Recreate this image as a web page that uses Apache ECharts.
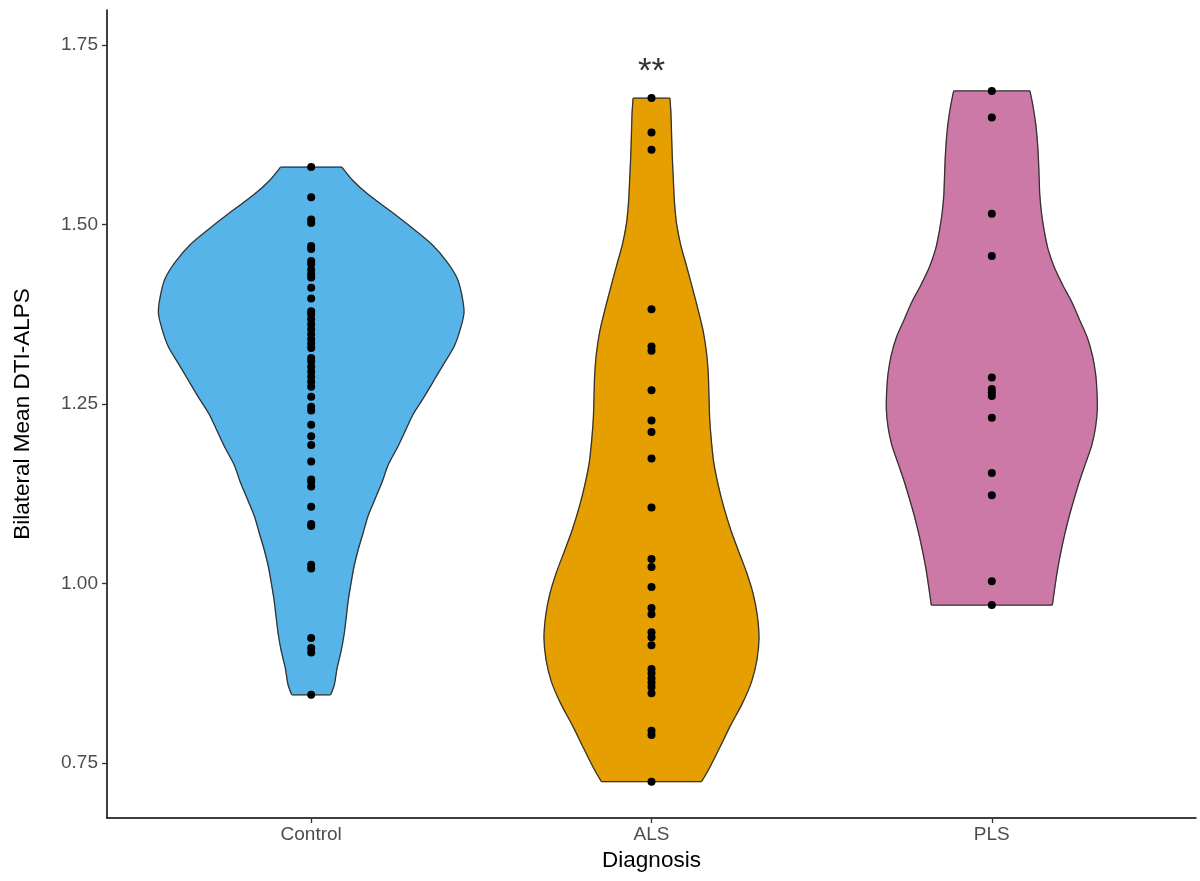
<!DOCTYPE html>
<html>
<head>
<meta charset="utf-8">
<script src="https://cdn.jsdelivr.net/npm/echarts@6/dist/echarts.min.js"></script>
<style>
  html, body { margin: 0; padding: 0; background: #fff; }
  #chart { width: 1200px; height: 881px; }
</style>
</head>
<body>
<div id="chart"></div>
<script>
  const groups = ['Control', 'ALS', 'PLS'];
  const colors = ['#56B4E9', '#E69F00', '#CC79A7'];
  const yTicks = [0.75, 1.00, 1.25, 1.50, 1.75];

  const controlValues = [1.580, 1.538, 1.507, 1.502, 1.470, 1.466, 1.449, 1.445, 1.437, 1.431, 1.426, 1.412,
    1.397, 1.379, 1.375, 1.368, 1.361, 1.354, 1.347, 1.340, 1.334, 1.328, 1.314, 1.309, 1.302, 1.295, 1.288,
    1.281, 1.274, 1.260, 1.246, 1.241, 1.221, 1.205, 1.193, 1.170, 1.145, 1.142, 1.135, 1.107, 1.083, 1.080,
    1.026, 1.021, 0.924, 0.910, 0.904, 0.845];
  const alsValues = [1.676, 1.628, 1.604, 1.382, 1.330, 1.324, 1.269, 1.227, 1.211, 1.174, 1.106, 1.034,
    1.023, 0.995, 0.966, 0.957, 0.932, 0.925, 0.914, 0.881, 0.875, 0.868, 0.862, 0.856, 0.847, 0.795, 0.789, 0.724];
  const plsValues = [1.686, 1.649, 1.515, 1.456, 1.287, 1.271, 1.266, 1.261, 1.231, 1.154, 1.123, 1.003, 0.970];

  // violin outlines: [value, half width in category units], top to bottom
  const controlOutline = [
    [1.580, 0.090], [1.561, 0.123], [1.542, 0.167], [1.519, 0.232], [1.495, 0.297], [1.472, 0.355],
    [1.448, 0.399], [1.425, 0.429], [1.401, 0.443], [1.377, 0.449], [1.354, 0.438], [1.330, 0.420],
    [1.307, 0.391], [1.283, 0.361], [1.260, 0.332], [1.236, 0.300], [1.212, 0.276], [1.189, 0.253],
    [1.165, 0.226], [1.142, 0.209], [1.118, 0.188], [1.094, 0.167], [1.071, 0.153], [1.047, 0.138],
    [1.024, 0.126], [1.000, 0.117], [0.977, 0.109], [0.953, 0.103], [0.930, 0.097], [0.906, 0.088],
    [0.882, 0.076], [0.859, 0.068], [0.845, 0.057]
  ];
  const alsOutline = [
    [1.676, 0.054], [1.656, 0.057], [1.625, 0.059], [1.595, 0.061], [1.564, 0.064], [1.534, 0.067],
    [1.503, 0.073], [1.473, 0.085], [1.442, 0.103], [1.412, 0.120], [1.381, 0.137], [1.351, 0.152],
    [1.320, 0.162], [1.290, 0.167], [1.259, 0.169], [1.229, 0.171], [1.198, 0.176], [1.168, 0.183],
    [1.137, 0.196], [1.107, 0.212], [1.076, 0.232], [1.046, 0.255], [1.016, 0.279], [0.985, 0.299],
    [0.955, 0.311], [0.924, 0.316], [0.894, 0.310], [0.863, 0.294], [0.833, 0.267], [0.802, 0.232],
    [0.772, 0.201], [0.741, 0.168], [0.724, 0.147]
  ];
  const plsOutline = [
    [1.686, 0.112], [1.665, 0.121], [1.640, 0.129], [1.615, 0.134], [1.591, 0.137], [1.566, 0.139],
    [1.541, 0.141], [1.516, 0.146], [1.491, 0.154], [1.466, 0.165], [1.441, 0.183], [1.416, 0.208],
    [1.392, 0.235], [1.367, 0.258], [1.342, 0.281], [1.317, 0.296], [1.292, 0.305], [1.267, 0.309],
    [1.243, 0.310], [1.218, 0.305], [1.193, 0.294], [1.168, 0.276], [1.143, 0.258], [1.118, 0.242],
    [1.093, 0.227], [1.068, 0.214], [1.044, 0.203], [1.019, 0.193], [0.994, 0.185], [0.970, 0.178]
  ];

  const annotText = '**';
  const annotGroup = 2;
  const annotValue = 1.712;

  const outlines = [controlOutline, alsOutline, plsOutline];
  const values = [controlValues, alsValues, plsValues];
  const font = '"Liberation Sans", Arial, sans-serif';

  const chart = echarts.init(document.getElementById('chart'));

  const edgeStyle = { stroke: '#333333', lineWidth: 1.3, fill: 'none' };

  const violinSeries = {
    type: 'custom',
    z: 2,
    silent: true,
    data: groups.map((g, i) => [i + 1]),
    renderItem: function (params, api) {
      const pos = api.value(0);
      const prof = outlines[pos - 1];
      const left = prof.map(p => api.coord([pos - p[1], p[0]]));
      const right = prof.map(p => api.coord([pos + p[1], p[0]]));
      const last = prof.length - 1;
      return {
        type: 'group',
        children: [
          {
            type: 'polygon',
            shape: { points: left.concat(right.slice().reverse()) },
            style: { fill: colors[pos - 1], stroke: colors[pos - 1], lineWidth: 0.8 }
          },
          { type: 'polyline', shape: { points: left, smooth: 0.3 }, style: edgeStyle },
          { type: 'polyline', shape: { points: right, smooth: 0.3 }, style: edgeStyle },
          {
            type: 'line',
            shape: { x1: left[0][0], y1: left[0][1], x2: right[0][0], y2: right[0][1] },
            style: edgeStyle
          },
          {
            type: 'line',
            shape: { x1: left[last][0], y1: left[last][1], x2: right[last][0], y2: right[last][1] },
            style: edgeStyle
          }
        ]
      };
    }
  };

  const pointSeries = values.map((vals, i) => ({
    type: 'scatter',
    name: groups[i],
    z: 3,
    silent: true,
    symbolSize: 8,
    itemStyle: { color: '#000', opacity: 1 },
    data: vals.map(v => [i + 1, v])
  }));

  const annotSeries = {
    type: 'scatter',
    z: 4,
    silent: true,
    symbolSize: 0,
    data: [[annotGroup, annotValue]],
    label: {
      show: true,
      position: 'inside',
      formatter: annotText,
      fontSize: 35,
      color: '#000',
      fontFamily: font
    }
  };

  const option = {
    backgroundColor: '#fff',
    animation: false,
    grid: { left: 107, right: 4, top: 10, bottom: 63 },
    xAxis: {
      type: 'value',
      min: 0.4,
      max: 3.6,
      name: 'Diagnosis',
      nameLocation: 'middle',
      nameGap: 27,
      nameTextStyle: { fontSize: 22.5, color: '#000', fontFamily: font },
      axisLine: { show: true, onZero: false, lineStyle: { color: '#000', width: 1.5 } },
      axisTick: { show: true, customValues: [1, 2, 3], length: 5, lineStyle: { color: '#333', width: 1.3 } },
      axisLabel: {
        customValues: [1, 2, 3],
        formatter: v => groups[Math.round(v) - 1],
        margin: 7,
        fontSize: 19,
        color: '#4D4D4D',
        fontFamily: font
      },
      splitLine: { show: false }
    },
    yAxis: {
      type: 'value',
      min: 0.6734,
      max: 1.7987,
      name: 'Bilateral Mean DTI-ALPS',
      nameLocation: 'middle',
      nameGap: 73,
      nameTextStyle: { fontSize: 22.5, color: '#000', fontFamily: font },
      axisLine: { show: true, onZero: false, lineStyle: { color: '#000', width: 1.5 } },
      axisTick: { show: true, customValues: yTicks, length: 5, lineStyle: { color: '#333', width: 1.3 } },
      axisLabel: {
        customValues: yTicks,
        formatter: v => v.toFixed(2),
        margin: 9,
        fontSize: 19,
        color: '#4D4D4D',
        fontFamily: font
      },
      splitLine: { show: false }
    },
    series: [violinSeries].concat(pointSeries, [annotSeries])
  };

  chart.setOption(option);
</script>
</body>
</html>
